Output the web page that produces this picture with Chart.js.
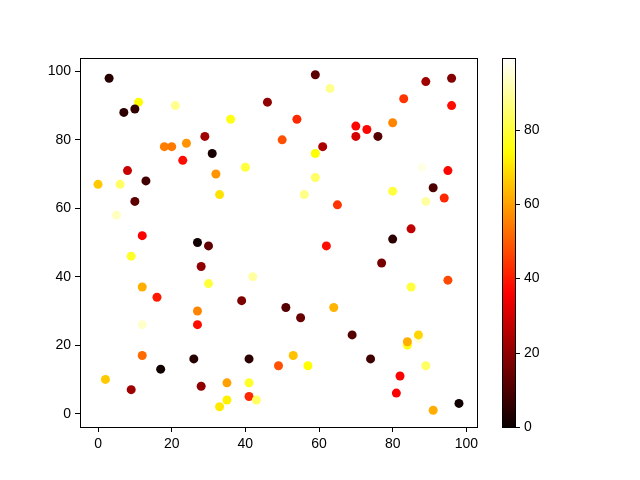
<!DOCTYPE html>
<html>
<head>
<meta charset="utf-8">
<script src="https://cdn.jsdelivr.net/npm/chart.js@4.4.0/dist/chart.umd.min.js"></script>
<style>
  html, body { margin: 0; padding: 0; background: #fff; }
  #wrap { width: 640px; height: 480px; }
</style>
</head>
<body>
<div id="wrap"><canvas id="chartCanvas" width="640" height="480"></canvas></div>
<script>
// scatter points
var xValues = [3, 11, 7, 10, 21, 36, 46, 29, 18, 20, 24, 31, 23, 8, 40, 32, 0, 6, 13, 10,
    33, 5, 12, 27, 59, 63, 89, 96, 83, 96, 54, 50, 70, 73, 70, 76, 80, 61, 59, 59,
    56, 65, 88, 95, 91, 94, 89, 80, 85, 80, 30, 9, 28, 42, 30, 12, 16, 39, 27, 27,
    12, 12, 26, 41, 17, 2, 9, 28, 35, 41, 35, 33, 41, 43, 62, 77, 95, 85, 51, 55,
    64, 69, 87, 87, 84, 84, 74, 53, 49, 57, 89, 82, 81, 98, 91];
var yValues = [98, 91, 88, 89, 90, 86, 91, 81, 78, 78, 79, 76, 74, 71, 72, 70, 67, 67, 68, 62,
    64, 58, 52, 50, 99, 95, 97, 98, 92, 90, 86, 80, 84, 83, 81, 81, 85, 78, 76, 69,
    64, 61, 72, 71, 66, 63, 62, 65, 54, 51, 49, 46, 43, 40, 38, 37, 34, 33, 30, 26,
    26, 17, 16, 16, 13, 10, 7, 8, 9, 9, 4, 2, 5, 4, 49, 44, 39, 37, 31, 28,
    31, 23, 22, 23, 20, 21, 16, 17, 14, 14, 14, 11, 6, 3, 1];
var colorValues = [4, 74, 5, 6, 88, 76, 20, 22, 55, 54, 58, 2, 38, 28, 80, 58, 66, 84, 8, 12,
    70, 93, 36, 1, 12, 88, 22, 18, 44, 38, 42, 48, 37, 37, 30, 11, 56, 24, 74, 84,
    87, 44, 97, 37, 10, 42, 90, 80, 27, 5, 13, 78, 20, 90, 80, 62, 40, 17, 56, 38,
    94, 52, 4, 5, 1, 66, 22, 20, 60, 78, 72, 71, 42, 84, 38, 16, 47, 80, 11, 14,
    63, 11, 95, 68, 76, 62, 8, 65, 48, 74, 84, 36, 36, 1, 62];
var axisTicks = [0, 20, 40, 60, 80, 100];
var colorbarTicks = [0, 20, 40, 60, 80];
var colorMin = 0;
var colorMax = 99.3;

// matplotlib "hot" colormap
function hot(t) {
    t = Math.max(0, Math.min(1, t));
    var r = t < 0.365079 ? 0.0416 + (1 - 0.0416) * t / 0.365079 : 1;
    var g = t < 0.365079 ? 0 : (t < 0.746032 ? (t - 0.365079) / (0.746032 - 0.365079) : 1);
    var b = t < 0.746032 ? 0 : (t - 0.746032) / (1 - 0.746032);
    return 'rgb(' + Math.round(r * 255) + ',' + Math.round(g * 255) + ',' + Math.round(b * 255) + ')';
}

var points = xValues.map(function (x, i) { return { x: x, y: yValues[i] }; });
var pointColors = colorValues.map(function (c) { return hot((c - colorMin) / (colorMax - colorMin)); });

var font = { family: 'Liberation Sans', size: 14 };

var colorbarPlugin = {
    id: 'colorbar',
    afterDraw: function (chart) {
        var c = chart.ctx;
        var area = chart.chartArea;
        // frame around the axes
        c.save();
        c.strokeStyle = '#000';
        c.lineWidth = 1;
        c.strokeRect(Math.round(area.left) + 0.5, Math.round(area.top) + 0.5,
            Math.round(area.right - area.left), Math.round(area.bottom - area.top));

        var left = 502, right = 515, top = area.top, bottom = area.bottom;
        var grad = c.createLinearGradient(0, bottom, 0, top);
        for (var i = 0; i <= 50; i++) {
            grad.addColorStop(i / 50, hot(i / 50));
        }
        c.fillStyle = grad;
        c.fillRect(left, top, right - left, bottom - top);
        c.strokeRect(left + 0.5, Math.round(top) + 0.5, right - left, Math.round(bottom - top));

        c.fillStyle = '#000';
        c.font = font.size + 'px ' + font.family;
        c.textAlign = 'left';
        c.textBaseline = 'middle';
        colorbarTicks.forEach(function (v) {
            var y = bottom - (v - colorMin) / (colorMax - colorMin) * (bottom - top);
            y = Math.round(y) + 0.5;
            c.beginPath();
            c.moveTo(right, y);
            c.lineTo(right + 5, y);
            c.stroke();
            c.fillText(String(v), right + 9, y);
        });
        c.restore();
    }
};

var ctx = document.getElementById('chartCanvas').getContext('2d');
var myChart = new Chart(ctx, {
    type: 'scatter',
    data: {
        datasets: [{
            data: points,
            pointBackgroundColor: pointColors,
            pointBorderWidth: 0,
            pointRadius: 4.5,
            pointHoverRadius: 4.5
        }]
    },
    options: {
        responsive: false,
        animation: false,
        devicePixelRatio: 1,
        layout: { padding: { left: 30, right: 163, top: 58, bottom: 23 } },
        plugins: { legend: { display: false }, tooltip: { enabled: false } },
        scales: {
            x: {
                type: 'linear',
                min: -4.9,
                max: 102.9,
                afterBuildTicks: function (scale) {
                    scale.ticks = axisTicks.map(function (v) { return { value: v }; });
                },
                afterFit: function (scale) { scale.height = 30; },
                grid: { drawOnChartArea: false, drawTicks: true, tickLength: 5, color: '#000' },
                border: { display: true, color: '#000' },
                ticks: { color: '#000', font: font, padding: 4, maxRotation: 0 }
            },
            y: {
                type: 'linear',
                min: -3.9,
                max: 103.9,
                afterBuildTicks: function (scale) {
                    scale.ticks = axisTicks.map(function (v) { return { value: v }; });
                },
                afterFit: function (scale) { scale.width = 50; },
                grid: { drawOnChartArea: false, drawTicks: true, tickLength: 5, color: '#000' },
                border: { display: true, color: '#000' },
                ticks: { color: '#000', font: font, padding: 4 }
            }
        }
    },
    plugins: [colorbarPlugin]
});
</script>
</body>
</html>
